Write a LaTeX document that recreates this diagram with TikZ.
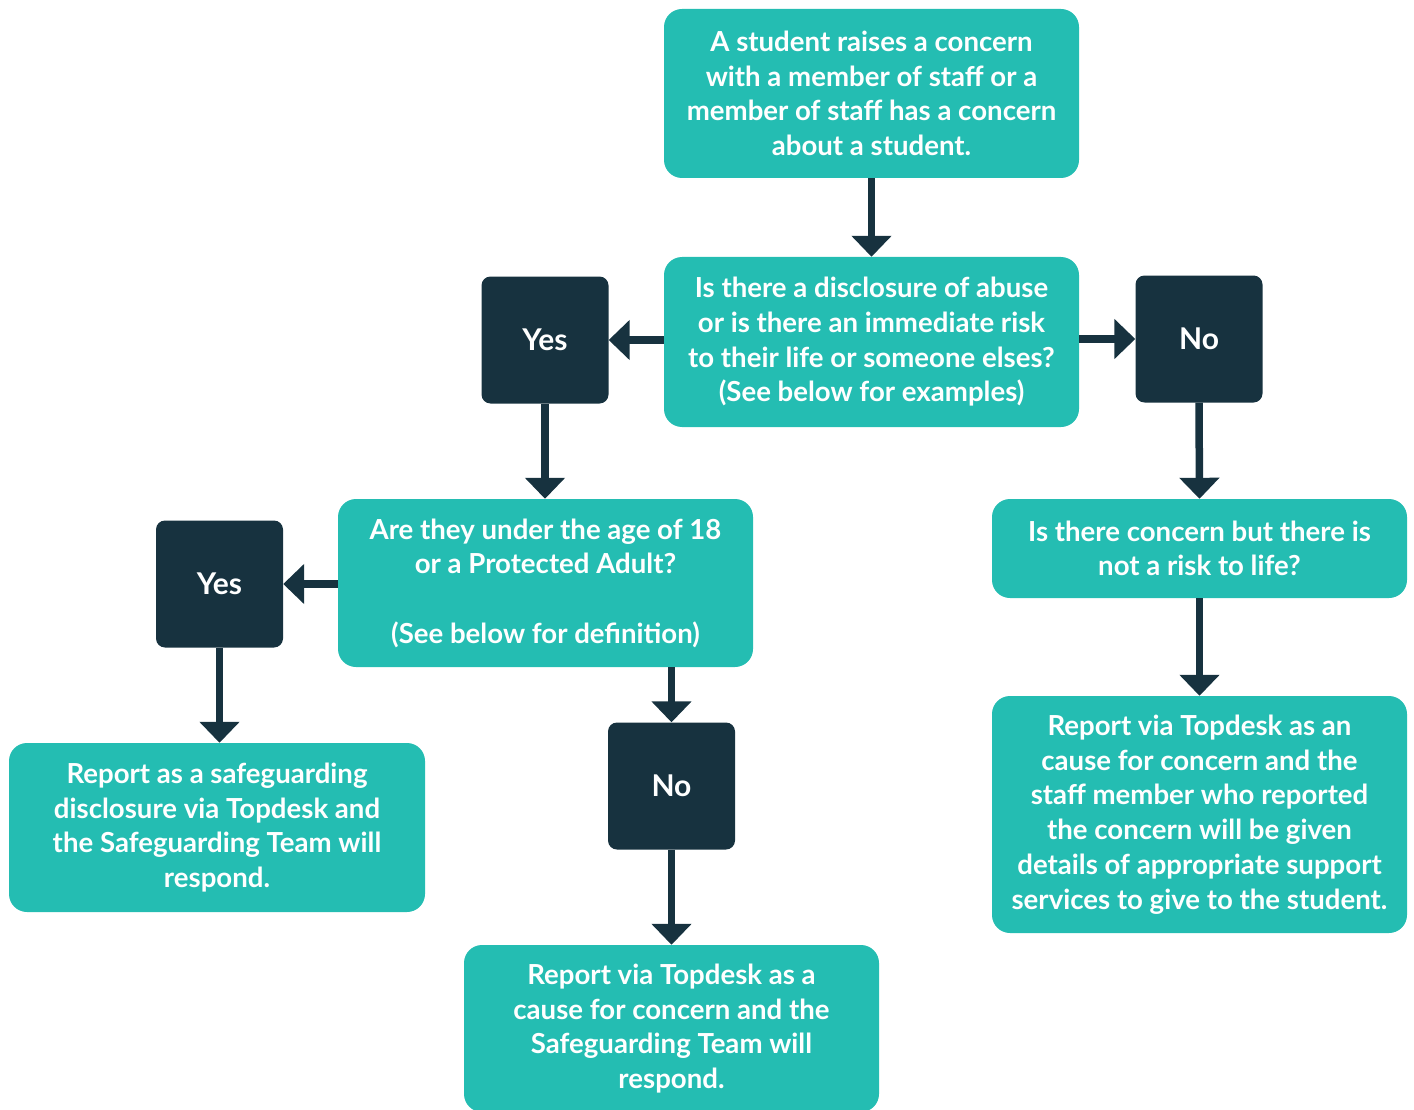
\documentclass[tikz,border=0pt]{standalone}
\usepackage{fontspec}
\setmainfont{Lato}
\usetikzlibrary{arrows.meta}
\definecolor{teal}{HTML}{24BDB2}
\definecolor{navy}{HTML}{17323F}
\tikzset{
  box/.style={fill=teal, rounded corners=18pt, text=white, align=center, inner sep=0pt,
    font=\bfseries\fontsize{27.6}{34.7}\selectfont},
  dbox/.style={fill=navy, rounded corners=9pt, text=white, align=center, inner sep=0pt,
    minimum width=127pt, minimum height=127pt, font=\bfseries\fontsize{30}{34}\selectfont},
  arr/.style={draw=navy, line width=7.5pt, -{Triangle[width=39pt,length=21pt]}}
}
\begin{document}
\begin{tikzpicture}[x=1pt,y=-1pt]
\useasboundingbox (0,0) rectangle (1414,1110);
\node[box, minimum width=415pt, minimum height=169pt] (top) at (871.5,93.5)
  {A student raises a concern\\with a member of staff or a\\member of staff has a concern\\about a student.};
\node[box, minimum width=415pt, minimum height=170pt] (q1) at (871.5,342)
  {Is there a disclosure of abuse\\or is there an immediate risk\\to their life or someone elses?\\(See below for examples)};
\node[dbox] (yes1) at (545,340) {Yes};
\node[dbox] (no1) at (1199,339) {No};
\node[box, minimum width=415pt, minimum height=168pt] (q2) at (545.5,583)
  {Are they under the age of 18\\or a Protected Adult?\\[34.7pt](See below for definition)};
\node[dbox] (yes2) at (219.5,584) {Yes};
\node[box, minimum width=416pt, minimum height=169pt] (r1) at (217,827.5)
  {Report as a safeguarding\\disclosure via Topdesk and\\the Safeguarding Team will\\respond.};
\node[dbox] (no2) at (671.5,786) {No};
\node[box, minimum width=415pt, minimum height=167pt] (r2) at (671.5,1028.5)
  {Report via Topdesk as a\\cause for concern and the\\Safeguarding Team will\\respond.};
\node[box, minimum width=415pt, minimum height=99pt] (q3) at (1199.5,548.5)
  {Is there concern but there is\\not a risk to life?};
\node[box, minimum width=415pt, minimum height=237pt] (r3) at (1199.5,814.5)
  {Report via Topdesk as an\\cause for concern and the\\staff member who reported\\the concern will be given\\details of appropriate support\\services to give to the student.};
\draw[arr] (top.south) -- (q1.north);
\draw[arr] (q1.west |- yes1.east) -- (yes1.east);
\draw[arr] (q1.east |- no1.west) -- (no1.west);
\draw[arr] (yes1.south) -- (q2.north -| yes1.south);
\draw[arr] (q2.west |- yes2.east) -- (yes2.east);
\draw[arr] (yes2.south) -- (r1.north -| yes2.south);
\draw[arr] (q2.south -| no2.north) -- (no2.north);
\draw[arr] (no2.south) -- (r2.north);
\draw[arr] (no1.south) -- (q3.north);
\draw[arr] (q3.south) -- (r3.north);
\end{tikzpicture}
\end{document}
